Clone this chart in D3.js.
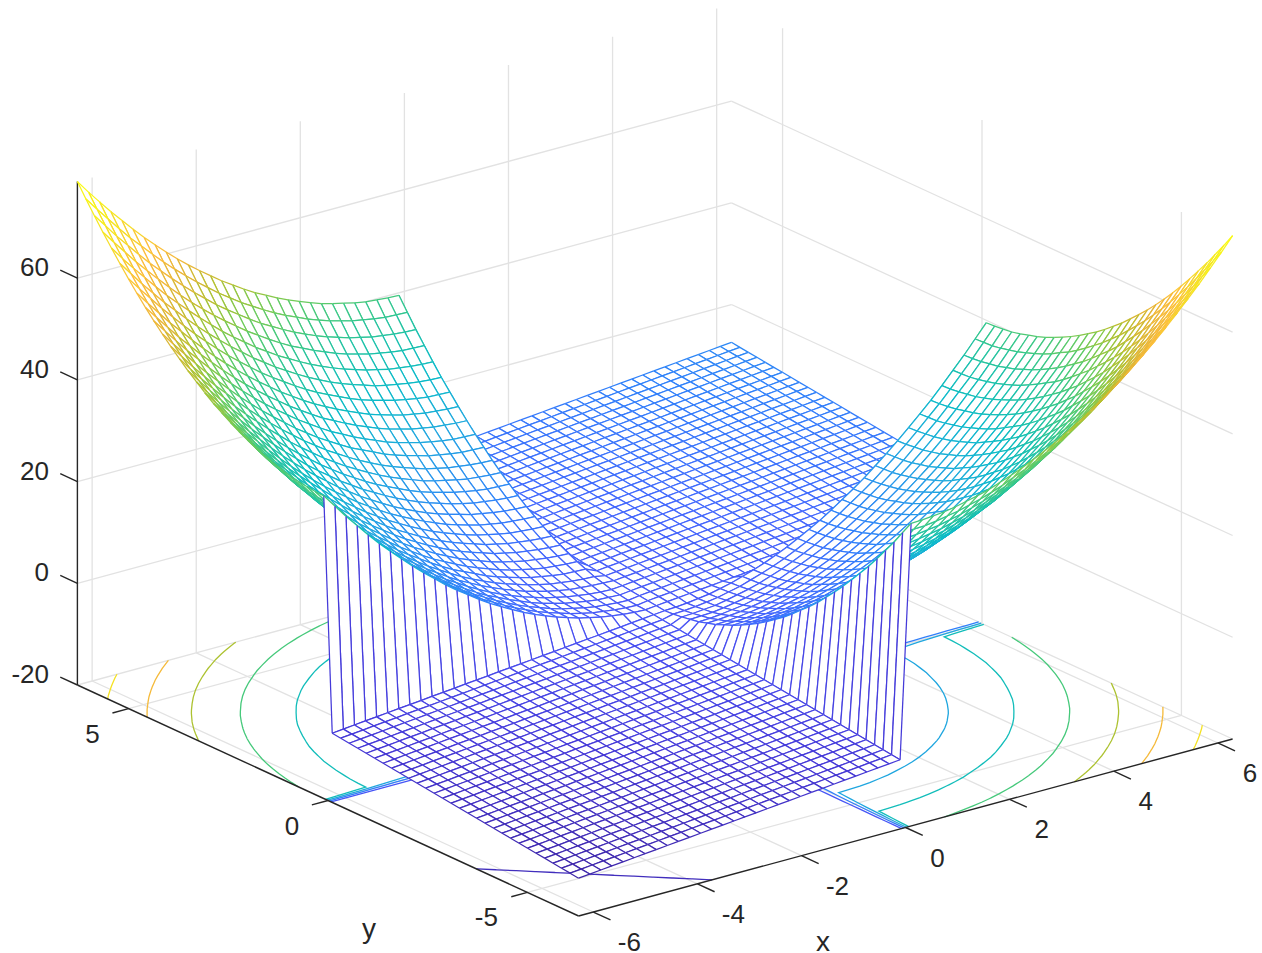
<!DOCTYPE html>
<meta charset="utf-8">
<svg width="1262" height="953"></svg>
<script src="https://d3js.org/d3.v7.min.js"></script>
<style>
  body { margin: 0; background: #fff; }
  text { font-family: "Liberation Sans", Arial, sans-serif; font-size: 26px; fill: #262626; }
  .grid line { stroke: #e2e2e2; stroke-width: 1.3; }
  .axis line { stroke: #262626; stroke-width: 1.4; }
  .contour { fill: none; stroke-width: 1.3; }
  .face { fill: #fff; stroke: none; }
  .edge { fill: none; stroke-width: 1.25; }
</style>
<script>
// mesh + floor contours: two opposite quadrants are a bowl, the other two a tilted plane

var gridValues = [-6.283,-6.07,-5.857,-5.644,-5.431,-5.218,-5.005,-4.792,-4.579,-4.366,-4.153,-3.94,-3.727,-3.514,-3.301,-3.088,-2.875,-2.662,-2.449,-2.236,-2.023,-1.81,-1.597,-1.384,-1.171,-0.959,-0.746,-0.532,-0.319,-0.106,
  0.106,0.319,0.532,0.746,0.959,1.171,1.384,1.597,1.81,2.023,2.236,2.449,2.662,2.875,3.088,3.301,3.514,3.727,3.94,4.153,4.366,4.579,4.792,5.005,5.218,5.431,5.644,5.857,6.07,6.283];

var bowlRows = [
  [0.0,0.1,0.3,0.6,0.9,1.4,1.9,2.6,3.3,4.1,5.0,6.0,7.1,8.3,9.5,10.9,12.4,13.9,15.5,17.3,19.1,21.0,23.0,25.1,27.2,29.5,31.9,34.3,36.9,39.5],
  [0.2,0.4,0.7,1.0,1.5,2.0,2.7,3.4,4.2,5.1,6.1,7.2,8.4,9.6,11.0,12.5,14.0,15.6,17.4,19.2,21.1,23.1,25.2,27.3,29.6,32.0,34.4,37.0,39.6],
  [0.6,0.8,1.2,1.7,2.2,2.8,3.6,4.4,5.3,6.3,7.4,8.6,9.8,11.2,12.6,14.2,15.8,17.5,19.3,21.3,23.3,25.3,27.5,29.8,32.1,34.6,37.1,39.8],
  [1.1,1.5,1.9,2.5,3.1,3.8,4.7,5.6,6.6,7.6,8.8,10.1,11.5,12.9,14.4,16.1,17.8,19.6,21.5,23.5,25.6,27.8,30.1,32.4,34.9,37.4,40.0],
  [1.8,2.3,2.8,3.5,4.2,5.0,5.9,6.9,8.0,9.2,10.5,11.8,13.3,14.8,16.4,18.2,20.0,21.9,23.9,26.0,28.2,30.4,32.8,35.2,37.8,40.4],
  [2.7,3.3,3.9,4.7,5.5,6.4,7.4,8.5,9.6,10.9,12.3,13.7,15.3,16.9,18.6,20.4,22.3,24.3,26.4,28.6,30.9,33.2,35.7,38.2,40.9],
  [3.8,4.5,5.2,6.0,6.9,7.9,9.0,10.2,11.5,12.8,14.3,15.8,17.4,19.2,21.0,22.9,24.9,27.0,29.1,31.4,33.8,36.2,38.8,41.4],
  [5.1,5.8,6.6,7.6,8.6,9.6,10.8,12.1,13.5,14.9,16.4,18.1,19.8,21.6,23.5,25.5,27.6,29.8,32.1,34.4,36.9,39.4,42.0],
  [6.6,7.4,8.3,9.3,10.4,11.5,12.8,14.2,15.6,17.2,18.8,20.5,22.3,24.2,26.2,28.3,30.5,32.8,35.1,37.6,40.1,42.8],
  [8.2,9.1,10.1,11.2,12.4,13.6,15.0,16.4,18.0,19.6,21.3,23.2,25.1,27.1,29.1,31.3,33.6,36.0,38.4,40.9,43.6],
  [10.0,11.0,12.1,13.3,14.5,15.9,17.4,18.9,20.5,22.3,24.1,26.0,28.0,30.1,32.2,34.5,36.9,39.3,41.9,44.5],
  [12.0,13.1,14.3,15.5,16.9,18.4,19.9,21.5,23.3,25.1,27.0,29.0,31.1,33.2,35.5,37.9,40.3,42.8,45.5],
  [14.2,15.4,16.6,18.0,19.4,21.0,22.6,24.3,26.2,28.1,30.1,32.1,34.3,36.6,38.9,41.4,43.9,46.6],
  [16.5,17.8,19.2,20.6,22.2,23.8,25.5,27.3,29.2,31.2,33.3,35.5,37.8,40.1,42.6,45.1,47.7],
  [19.1,20.4,21.9,23.4,25.1,26.8,28.6,30.5,32.5,34.6,36.8,39.0,41.4,43.8,46.4,49.0],
  [21.8,23.2,24.8,26.4,28.1,30.0,31.9,33.9,36.0,38.1,40.4,42.8,45.2,47.7,50.4],
  [24.7,26.2,27.9,29.6,31.4,33.3,35.3,37.4,39.6,41.8,44.2,46.7,49.2,51.8],
  [27.8,29.4,31.1,33.0,34.9,36.9,38.9,41.1,43.4,45.8,48.2,50.7,53.4],
  [31.1,32.8,34.6,36.5,38.5,40.6,42.8,45.0,47.4,49.8,52.4,55.0],
  [34.5,36.3,38.2,40.2,42.3,44.5,46.7,49.1,51.6,54.1,56.7],
  [38.1,40.0,42.0,44.1,46.3,48.6,50.9,53.4,55.9,58.5],
  [41.9,43.9,46.0,48.2,50.5,52.8,55.3,57.8,60.4],
  [45.9,48.0,50.2,52.5,54.8,57.3,59.8,62.4],
  [50.1,52.3,54.6,56.9,59.4,61.9,64.5],
  [54.5,56.7,59.1,61.5,64.1,66.7],
  [59.0,61.4,63.8,66.3,69.0],
  [63.7,66.2,68.7,71.3],
  [68.6,71.2,73.8],
  [73.7,76.3],
  [78.96]
];

// height of the tilted plane, same layout (negative in the front quadrant)
var planeRows = [
  [0.21,0.43,0.64,0.85,1.06,1.28,1.49,1.70,1.92,2.13,2.34,2.56,2.77,2.98,3.19,3.41,3.62,3.83,4.05,4.26,4.47,4.69,4.90,5.11,5.32,5.54,5.75,5.96,6.18,6.39],
  [0.64,0.85,1.06,1.28,1.49,1.70,1.92,2.13,2.34,2.56,2.77,2.98,3.19,3.41,3.62,3.83,4.05,4.26,4.47,4.69,4.90,5.11,5.32,5.54,5.75,5.96,6.18,6.39,6.60],
  [1.06,1.28,1.49,1.70,1.92,2.13,2.34,2.56,2.77,2.98,3.19,3.41,3.62,3.83,4.05,4.26,4.47,4.69,4.90,5.11,5.32,5.54,5.75,5.96,6.18,6.39,6.60,6.82],
  [1.49,1.70,1.92,2.13,2.34,2.56,2.77,2.98,3.19,3.41,3.62,3.83,4.05,4.26,4.47,4.69,4.90,5.11,5.32,5.54,5.75,5.96,6.18,6.39,6.60,6.82,7.03],
  [1.92,2.13,2.34,2.56,2.77,2.98,3.19,3.41,3.62,3.83,4.05,4.26,4.47,4.69,4.90,5.11,5.32,5.54,5.75,5.96,6.18,6.39,6.60,6.82,7.03,7.24],
  [2.34,2.56,2.77,2.98,3.19,3.41,3.62,3.83,4.05,4.26,4.47,4.69,4.90,5.11,5.32,5.54,5.75,5.96,6.18,6.39,6.60,6.82,7.03,7.24,7.45],
  [2.77,2.98,3.19,3.41,3.62,3.83,4.05,4.26,4.47,4.69,4.90,5.11,5.32,5.54,5.75,5.96,6.18,6.39,6.60,6.82,7.03,7.24,7.45,7.67],
  [3.19,3.41,3.62,3.83,4.05,4.26,4.47,4.69,4.90,5.11,5.32,5.54,5.75,5.96,6.18,6.39,6.60,6.82,7.03,7.24,7.45,7.67,7.88],
  [3.62,3.83,4.05,4.26,4.47,4.69,4.90,5.11,5.32,5.54,5.75,5.96,6.18,6.39,6.60,6.82,7.03,7.24,7.45,7.67,7.88,8.09],
  [4.05,4.26,4.47,4.69,4.90,5.11,5.32,5.54,5.75,5.96,6.18,6.39,6.60,6.82,7.03,7.24,7.45,7.67,7.88,8.09,8.31],
  [4.47,4.69,4.90,5.11,5.32,5.54,5.75,5.96,6.18,6.39,6.60,6.82,7.03,7.24,7.45,7.67,7.88,8.09,8.31,8.52],
  [4.90,5.11,5.32,5.54,5.75,5.96,6.18,6.39,6.60,6.82,7.03,7.24,7.45,7.67,7.88,8.09,8.31,8.52,8.73],
  [5.32,5.54,5.75,5.96,6.18,6.39,6.60,6.82,7.03,7.24,7.45,7.67,7.88,8.09,8.31,8.52,8.73,8.95],
  [5.75,5.96,6.18,6.39,6.60,6.82,7.03,7.24,7.45,7.67,7.88,8.09,8.31,8.52,8.73,8.95,9.16],
  [6.18,6.39,6.60,6.82,7.03,7.24,7.45,7.67,7.88,8.09,8.31,8.52,8.73,8.95,9.16,9.37],
  [6.60,6.82,7.03,7.24,7.45,7.67,7.88,8.09,8.31,8.52,8.73,8.95,9.16,9.37,9.58],
  [7.03,7.24,7.45,7.67,7.88,8.09,8.31,8.52,8.73,8.95,9.16,9.37,9.58,9.80],
  [7.45,7.67,7.88,8.09,8.31,8.52,8.73,8.95,9.16,9.37,9.58,9.80,10.01],
  [7.88,8.09,8.31,8.52,8.73,8.95,9.16,9.37,9.58,9.80,10.01,10.22],
  [8.31,8.52,8.73,8.95,9.16,9.37,9.58,9.80,10.01,10.22,10.44],
  [8.73,8.95,9.16,9.37,9.58,9.80,10.01,10.22,10.44,10.65],
  [9.16,9.37,9.58,9.80,10.01,10.22,10.44,10.65,10.86],
  [9.58,9.80,10.01,10.22,10.44,10.65,10.86,11.08],
  [10.01,10.22,10.44,10.65,10.86,11.08,11.29],
  [10.44,10.65,10.86,11.08,11.29,11.50],
  [10.86,11.08,11.29,11.50,11.71],
  [11.29,11.50,11.71,11.93],
  [11.71,11.93,12.14],
  [12.14,12.35],
  [12.57]
];

var xTicks = [-6, -4, -2, 0, 2, 4, 6];
var yTicks = [-5, 0, 5];
var zTicks = [-20, 0, 20, 40, 60];
var contourLevels = [-10, 0, 10, 20, 30, 40, 50, 60, 70];
var parula = ["#3e26a8", "#4538d7", "#4852f4", "#4367fd", "#2f80fa", "#2797eb", "#1cadda", "#0abac8", "#1cc1a9", "#3bc884", "#73cb56", "#b1c12f", "#e4b536", "#fdbd3c", "#f5d82a", "#f6ee1a", "#f9fb15"];

var xyLimit = 6.2832, zMin = -20, zMax = 78.96, colorMin = -12.57, colorMax = 78.96;

// orthographic view: each data axis moves the screen point along its own direction
var xToLeft = d3.scaleLinear().domain([-xyLimit, xyLimit]).range([-327, 327]),
    xToTop = d3.scaleLinear().domain([-xyLimit, xyLimit]).range([88.5, -88.5]),
    yToLeft = d3.scaleLinear().domain([-xyLimit, xyLimit]).range([250.6, -250.6]),
    yToTop = d3.scaleLinear().domain([-xyLimit, xyLimit]).range([115.5, -115.5]),
    zToTop = d3.scaleLinear().domain([zMin, zMax]).range([0, -503.4]);

var color = d3.scaleLinear()
    .domain(parula.map(function(d, i) { return colorMin + (colorMax - colorMin) * i / (parula.length - 1); }))
    .range(parula);

var project = function(x, y, z) {
  return [655 + xToLeft(x) + yToLeft(y), 712 + xToTop(x) + yToTop(y) + zToTop(z)];
};

var n = gridValues.length;
var half = n / 2;

var distance = function(i) { return i < half ? half - 1 - i : i - half; };

var zAt = function(i, j) {
  var a = Math.min(distance(i), distance(j)),
      b = Math.max(distance(i), distance(j));
  if ((i < half) !== (j < half)) return bowlRows[a][b - a];
  return i < half ? -planeRows[a][b - a] : planeRows[a][b - a];
};

var svg = d3.select("svg");

var point = function(i, j) { return project(gridValues[i], gridValues[j], zAt(i, j)); };

// ---- grid on the two back walls and the floor
var gridLines = [];
xTicks.forEach(function(t) {
  gridLines.push([project(t, -xyLimit, zMin), project(t, xyLimit, zMin)]);
  gridLines.push([project(t, xyLimit, zMin), project(t, xyLimit, zMax)]);
});
yTicks.forEach(function(t) {
  gridLines.push([project(-xyLimit, t, zMin), project(xyLimit, t, zMin)]);
  gridLines.push([project(xyLimit, t, zMin), project(xyLimit, t, zMax)]);
});
zTicks.forEach(function(t) {
  gridLines.push([project(-xyLimit, xyLimit, t), project(xyLimit, xyLimit, t)]);
  gridLines.push([project(xyLimit, xyLimit, t), project(xyLimit, -xyLimit, t)]);
});

svg.append("g").attr("class", "grid")
  .selectAll("line")
  .data(gridLines)
  .enter().append("line")
    .attr("x1", function(d) { return d[0][0]; })
    .attr("y1", function(d) { return d[0][1]; })
    .attr("x2", function(d) { return d[1][0]; })
    .attr("y2", function(d) { return d[1][1]; });

// ---- contours on the floor
var flat = [];
for (var j = 0; j < n; j++) {
  for (var i = 0; i < n; i++) flat.push(zAt(i, j));
}

var indexToValue = d3.scaleLinear().domain([0, n - 1]).range([gridValues[0], gridValues[n - 1]]);
var clampIndex = function(c) { return Math.max(0, Math.min(n - 1, c - 0.5)); };

var contours = d3.contours().size([n, n]).thresholds(contourLevels)(flat);

var contourPath = function(c) {
  var out = "";
  c.coordinates.forEach(function(polygon) {
    polygon.forEach(function(ring) {
      var pen = false;
      for (var k = 1; k < ring.length; k++) {
        var ax = clampIndex(ring[k - 1][0]), ay = clampIndex(ring[k - 1][1]),
            bx = clampIndex(ring[k][0]), by = clampIndex(ring[k][1]);
        // d3 closes each band along the border of the grid, those pieces are not contour
        var border = (ax === bx && (ax === 0 || ax === n - 1)) || (ay === by && (ay === 0 || ay === n - 1));
        if (border) { pen = false; continue; }
        var a = project(indexToValue(ax), indexToValue(ay), zMin),
            b = project(indexToValue(bx), indexToValue(by), zMin);
        if (!pen) out += "M" + a[0] + "," + a[1];
        out += "L" + b[0] + "," + b[1];
        pen = true;
      }
    });
  });
  return out;
};

svg.append("g").selectAll("path")
  .data(contours)
  .enter().append("path")
    .attr("class", "contour")
    .attr("stroke", function(d) { return color(d.value); })
    .attr("d", contourPath);

// ---- axes
var axisLines = [
  [project(-xyLimit, xyLimit, zMin), project(-xyLimit, xyLimit, zMax)],
  [project(-xyLimit, xyLimit, zMin), project(-xyLimit, -xyLimit, zMin)],
  [project(-xyLimit, -xyLimit, zMin), project(xyLimit, -xyLimit, zMin)]
];
var tickX = 0.31, tickY = 0.43;
xTicks.forEach(function(t) {
  axisLines.push([project(t, -xyLimit, zMin), project(t, -xyLimit - tickY, zMin)]);
});
yTicks.forEach(function(t) {
  axisLines.push([project(-xyLimit, t, zMin), project(-xyLimit - tickX, t, zMin)]);
});
zTicks.forEach(function(t) {
  axisLines.push([project(-xyLimit, xyLimit, t), project(-xyLimit, xyLimit + tickY, t)]);
});

svg.append("g").attr("class", "axis")
  .selectAll("line")
  .data(axisLines)
  .enter().append("line")
    .attr("x1", function(d) { return d[0][0]; })
    .attr("y1", function(d) { return d[0][1]; })
    .attr("x2", function(d) { return d[1][0]; })
    .attr("y2", function(d) { return d[1][1]; });

var labels = svg.append("g");

labels.selectAll(".xt").data(xTicks).enter().append("text")
    .attr("text-anchor", "middle")
    .attr("x", function(d) { return project(d, -xyLimit, zMin)[0] + (d < 0 ? 36 : 32); })
    .attr("y", function(d) { return project(d, -xyLimit, zMin)[1] + 39; })
    .text(function(d) { return d; });

labels.selectAll(".yt").data(yTicks).enter().append("text")
    .attr("text-anchor", "middle")
    .attr("x", function(d) { return project(-xyLimit, d, zMin)[0] + (d < 0 ? -41 : -36); })
    .attr("y", function(d) { return project(-xyLimit, d, zMin)[1] + 34; })
    .text(function(d) { return d; });

labels.selectAll(".zt").data(zTicks).enter().append("text")
    .attr("text-anchor", "end")
    .attr("x", 49)
    .attr("y", function(d) { return project(-xyLimit, xyLimit, d)[1] - 2; })
    .text(function(d) { return d; });

labels.append("text").attr("text-anchor", "middle").attr("x", 369).attr("y", 938).style("font-size", "28px").text("y");
labels.append("text").attr("text-anchor", "middle").attr("x", 823).attr("y", 951).style("font-size", "28px").text("x");

// ---- mesh, painted from the far corner to the near one so white faces hide what is behind
var faces = [];
for (var a = n - 2; a >= 0; a--) {
  for (var b = n - 2; b >= 0; b--) faces.push([a, b]);
}

var meshLine = d3.line();
var mesh = svg.append("g");

faces.forEach(function(f) {
  var i = f[0], j = f[1];
  var p00 = point(i, j), p10 = point(i + 1, j), p11 = point(i + 1, j + 1), p01 = point(i, j + 1);
  mesh.append("path").attr("class", "face").attr("d", meshLine([p00, p10, p11, p01]) + "Z");
  // an edge takes the colour of its lower index end
  [[p00, p10, zAt(i, j)], [p00, p01, zAt(i, j)], [p10, p11, zAt(i + 1, j)], [p01, p11, zAt(i, j + 1)]].forEach(function(e) {
    mesh.append("path").attr("class", "edge")
      .attr("stroke", color(e[2]))
      .attr("d", meshLine([e[0], e[1]]));
  });
});
</script>
